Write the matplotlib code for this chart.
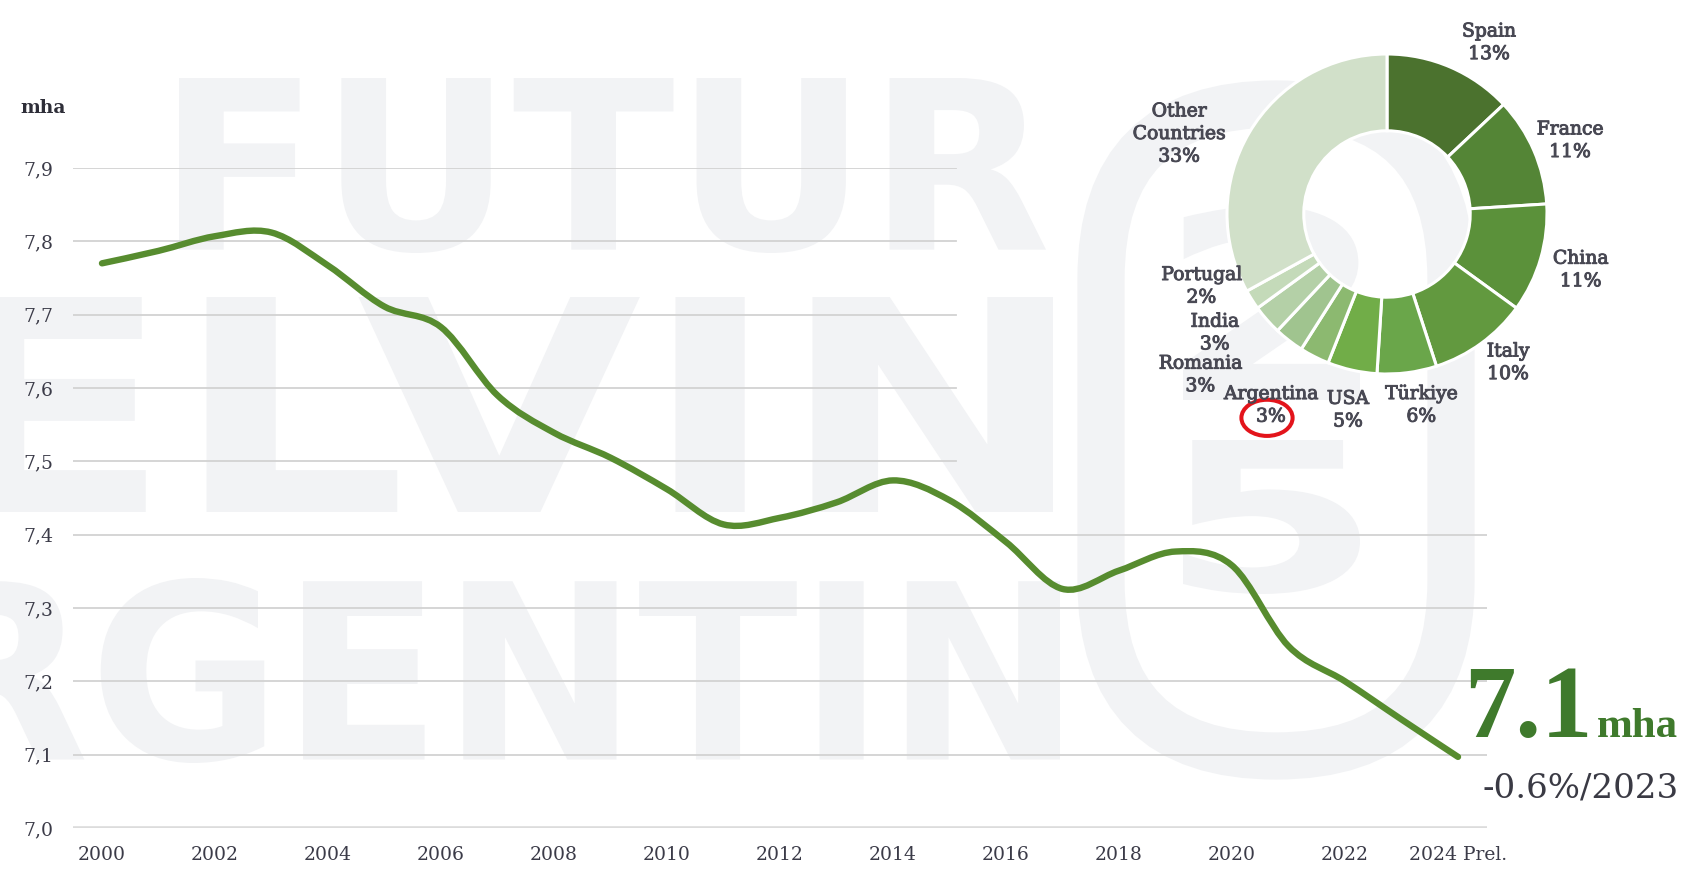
import matplotlib
matplotlib.use("Agg")
import matplotlib.pyplot as plt
import matplotlib.patheffects as pe
from matplotlib.path import Path
from matplotlib.patches import PathPatch, Ellipse, FancyBboxPatch
from matplotlib.textpath import TextPath
from matplotlib.font_manager import FontProperties
from matplotlib.transforms import Affine2D

# vineyard surface, million hectares
years = list(range(2000, 2025))
area_mha = [7.770, 7.787, 7.807, 7.812, 7.767, 7.711, 7.683, 7.590, 7.539, 7.505,
            7.462, 7.414, 7.423, 7.444, 7.474, 7.447, 7.390, 7.326, 7.351, 7.377,
            7.358, 7.248, 7.200, 7.148, 7.097]
y_ticks = [7.0, 7.1, 7.2, 7.3, 7.4, 7.5, 7.6, 7.7, 7.8, 7.9]
x_ticks = list(range(2000, 2025, 2))
x_labels = [str(y) for y in x_ticks[:-1]] + ["2024 Prel."]

# share of world vineyard by country
countries = ["Spain", "France", "China", "Italy", "Türkiye", "USA", "Argentina",
             "Romania", "India", "Portugal", "Other\nCountries"]
shares = [13, 11, 11, 10, 6, 5, 3, 3, 3, 2, 33]
donut_colors = ["#4b722e", "#548536", "#5b913a", "#62993f", "#6aa64a", "#71ad48",
                "#8cb970", "#a0c48f", "#b4d0a7", "#c4dab9", "#d1e0c9"]

W, H = 1688, 869
fig = plt.figure(figsize=(W / 100, H / 100), dpi=100)
fig.patch.set_facecolor("white")

# ---- background watermark (pixel coordinates) ----
bg = fig.add_axes([0, 0, 1, 1], zorder=0)
bg.set_xlim(0, W)
bg.set_ylim(H, 0)
bg.axis("off")
wm = "#f2f3f5"
wm_font = FontProperties(family="DejaVu Sans", weight="bold")


def stamp(text, x0, x1, y0, y1):
    tp = TextPath((0, 0), text, size=100, prop=wm_font)
    bb = tp.get_extents()
    tr = (Affine2D().translate(-bb.x0, -bb.y0)
          .scale((x1 - x0) / bb.width, -(y1 - y0) / bb.height)
          .translate(x0, y1))
    bg.add_patch(PathPatch(tr.transform_path(tp), color=wm, lw=0))


stamp("FUTUR", 179, 1046, 78, 253)
stamp("ELVIN", -45, 1053, 297, 512)
stamp("RGENTIN", -70, 1060, 578, 763)
stamp("2", 1183, 1360, 206, 400)
stamp("5", 1183, 1360, 440, 594)
bg.add_patch(FancyBboxPatch((1101, 104), 350, 652,
                            boxstyle="round,pad=0,rounding_size=175",
                            fc="none", ec=wm, lw=34))

# ---- main line chart ----
ax = fig.add_axes([73 / W, 41 / H, 1414 / W, 660 / H], zorder=2)
ax.set_facecolor("none")
ax.set_xlim(1999.487, 2024.513)
ax.set_ylim(7.0, 7.9)
for s in ax.spines.values():
    s.set_visible(False)

for v in y_ticks[1:]:
    xmax = 0.6245 if v >= 7.5 else 1.0
    ax.axhline(v, xmin=0, xmax=xmax, color="#d2d2d2", lw=1.3, zorder=1)
ax.axhline(7.0, color="#dcdcdc", lw=2.6, zorder=1)

# smooth curve through the yearly points (Catmull-Rom as cubic Bezier)
pts = list(zip(years, area_mha))
verts = [pts[0]]
codes = [Path.MOVETO]
for i in range(len(pts) - 1):
    p0 = pts[i - 1] if i > 0 else pts[i]
    p1 = pts[i]
    p2 = pts[i + 1]
    p3 = pts[i + 2] if i + 2 < len(pts) else pts[i + 1]
    c1 = (p1[0] + (p2[0] - p0[0]) / 6, p1[1] + (p2[1] - p0[1]) / 6)
    c2 = (p2[0] - (p3[0] - p1[0]) / 6, p2[1] - (p3[1] - p1[1]) / 6)
    verts += [c1, c2, p2]
    codes += [Path.CURVE4] * 3
ax.add_patch(PathPatch(Path(verts, codes), fc="none", ec="#578c2f", lw=4.6,
                       capstyle="round", joinstyle="round", zorder=3, clip_on=False))

tick_font = dict(family="DejaVu Serif", size=13.5)
ax.set_yticks(y_ticks)
ax.set_yticklabels([f"{v:.1f}".replace(".", ",") for v in y_ticks], **tick_font)
ax.set_xticks(x_ticks)
ax.set_xticklabels(x_labels, **tick_font)
ax.tick_params(length=0, colors="#3b3b48")
ax.tick_params(axis="y", pad=14)
ax.tick_params(axis="x", pad=13)

fig.text(20 / W, 1 - 113 / H, "mha", family="DejaVu Serif", weight="bold",
         size=13.5, color="#2e2e38", ha="left", va="baseline")

# ---- headline figure ----
big = fig.text(1464 / W, 1 - 737 / H, "7.1", family="Liberation Serif", weight="bold",
               size=74, color="#3f7a2c", ha="left", va="baseline")
renderer = fig.canvas.get_renderer()
big_end = big.get_window_extent(renderer).x1
fig.text((big_end + 4) / W, 1 - 737 / H, "mha", family="Liberation Serif",
         weight="bold", size=31, color="#3f7a2c", ha="left", va="baseline")
fig.text(1483 / W, 1 - 797 / H, "-0.6%/2023", family="DejaVu Serif",
         size=24.5, color="#3a3a44", ha="left", va="baseline")

# ---- donut ----
cx, cy, r = 1387, 214, 168
dax = fig.add_axes([(cx - 200) / W, (H - cy - 200) / H, 400 / W, 400 / H], zorder=3)
dax.set_xlim(-200 / r, 200 / r)
dax.set_ylim(-200 / r, 200 / r)
dax.set_aspect("equal")
dax.axis("off")
dax.pie(shares, colors=donut_colors, startangle=90, counterclock=False, radius=1,
        wedgeprops=dict(width=0.48, edgecolor="white", linewidth=2.2))

label_pos = [(0.637, 1.07), (1.143, 0.458), (1.21, -0.35), (0.756, -0.93),
             (0.214, -1.196), (-0.244, -1.226), (-0.726, -1.196), (-1.167, -1.006),
             (-1.077, -0.744), (-1.16, -0.452), (-1.30, 0.50)]
lab_color = "#484853"
for name, share, (lx, ly) in zip(countries, shares, label_pos):
    dax.text(lx, ly, f"{name}\n{share}%", ha="center", va="center",
             family="DejaVu Serif", size=13.5, color=lab_color, linespacing=1.33,
             clip_on=False,
             path_effects=[pe.withStroke(linewidth=0.7, foreground=lab_color)])

dax.add_patch(Ellipse((-0.75, -1.274), 0.32, 0.226, fc="none", ec="#e3141b",
                      lw=2.9, clip_on=False))

fig.savefig("out.png", dpi=100)
